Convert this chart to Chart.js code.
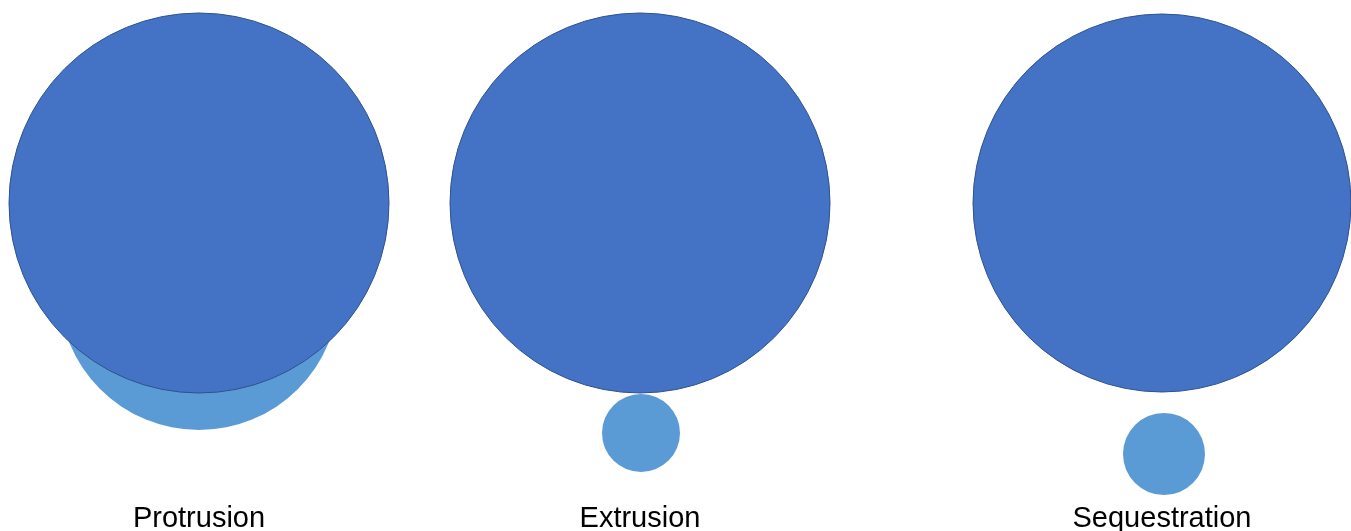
<!DOCTYPE html>
<html>
<head>
<meta charset="utf-8">
<title>Disc herniation types</title>
<script src="https://cdn.jsdelivr.net/npm/chart.js@4.4.1/dist/chart.umd.min.js"></script>
<style>
    html, body { margin: 0; padding: 0; background: #ffffff; }
    #wrap { width: 1351px; height: 531px; position: relative; }
</style>
</head>
<body>
<div id="wrap"><canvas id="herniationChart"></canvas></div>
<script>
// Diagram values, in axis units (x 0..1351, y 0..531 top-down)
const categories = ['Protrusion', 'Extrusion', 'Sequestration'];
const discX = [199, 640, 1162];
const discY = [203, 203, 203];
const discR = [190, 190, 189];
const fragmentX = [199, 641, 1164];
const fragmentY = [290, 433, 454];
const fragmentR = [140, 39, 41];
const labelY = 527;

function toPoints(xs, ys, rs) {
    return xs.map((x, i) => ({ x: x, y: ys[i], r: rs[i] }));
}

/**
 * Category labels under each disc
 */
const labelPlugin = {
    id: 'categoryLabels',
    afterDatasetsDraw(chart) {
        const ctx = chart.ctx;
        const xScale = chart.scales.x;
        const yScale = chart.scales.y;
        ctx.save();
        ctx.font = "29px 'Liberation Sans', Arial, sans-serif";
        ctx.fillStyle = '#000000';
        ctx.textAlign = 'center';
        ctx.textBaseline = 'alphabetic';
        categories.forEach((label, i) => {
            ctx.fillText(label, xScale.getPixelForValue(discX[i]), yScale.getPixelForValue(labelY));
        });
        ctx.restore();
    }
};

document.addEventListener('DOMContentLoaded', () => {
    const ctx = document.getElementById('herniationChart');

    new Chart(ctx, {
        type: 'bubble',
        data: {
            datasets: [
                {
                    // drawn on top (dataset 0)
                    label: 'Disc',
                    data: toPoints(discX, discY, discR),
                    backgroundColor: '#4472C4',
                    borderColor: '#2F528F',
                    borderWidth: 1,
                    hoverBorderWidth: 1,
                    clip: false
                },
                {
                    label: 'Herniated material',
                    data: toPoints(fragmentX, fragmentY, fragmentR),
                    backgroundColor: '#5B9BD5',
                    borderColor: '#5B9BD5',
                    borderWidth: 0,
                    hoverBorderWidth: 0,
                    clip: false
                }
            ]
        },
        options: {
            responsive: true,
            maintainAspectRatio: false,
            animation: false,
            layout: { padding: 0, autoPadding: false },
            plugins: {
                legend: { display: false },
                tooltip: { enabled: false }
            },
            scales: {
                x: { type: 'linear', min: 0, max: 1351, display: false },
                y: { type: 'linear', min: 0, max: 531, reverse: true, display: false }
            }
        },
        plugins: [labelPlugin]
    });
});
</script>
</body>
</html>
